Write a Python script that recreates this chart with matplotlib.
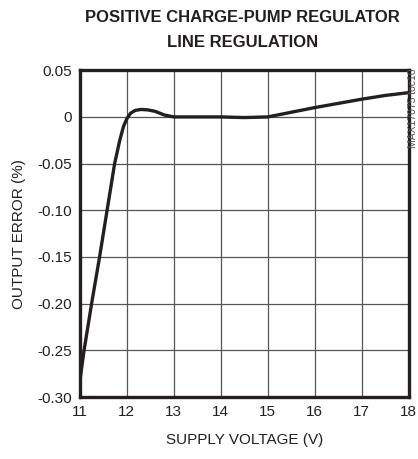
import matplotlib
matplotlib.use('Agg')
import matplotlib.pyplot as plt

plt.rcParams['font.family'] = ['Liberation Sans', 'DejaVu Sans']

# supply voltage (V) vs output error (%)
supply_v = [11.0, 11.09, 11.25, 11.42, 11.58, 11.74, 11.85, 11.93, 12.0, 12.08, 12.18, 12.3,
            12.45, 12.6, 12.8, 13.0, 13.5, 14.0, 14.5, 15.0, 15.5, 16.0, 16.5, 17.0, 17.5, 18.0]
out_err = [-0.283, -0.25, -0.20, -0.15, -0.10, -0.05, -0.025, -0.01, -0.002, 0.004, 0.007, 0.008,
           0.0075, 0.006, 0.002, 0.0, 0.0, 0.0, -0.0007, 0.0, 0.005, 0.010, 0.0145, 0.019, 0.023, 0.026]

x_ticks = [11, 12, 13, 14, 15, 16, 17, 18]
y_ticks = [0.05, 0, -0.05, -0.10, -0.15, -0.20, -0.25, -0.30]
y_tick_labels = ['0.05', '0', '-0.05', '-0.10', '-0.15', '-0.20', '-0.25', '-0.30']

fig = plt.figure(figsize=(4.18, 4.59), dpi=100)
ax = fig.add_axes([0.191, 0.135, 0.787, 0.712])

ax.plot(supply_v, out_err, color='#231f20', lw=2.4, solid_capstyle='butt', zorder=3)

ax.set_xlim(11, 18)
ax.set_ylim(-0.30, 0.05)
ax.set_xticks(x_ticks)
ax.set_yticks(y_ticks)
ax.set_yticklabels(y_tick_labels)
ax.grid(True, color='#555555', lw=0.9)
ax.tick_params(length=0, labelsize=11, pad=6, colors='#231f20')
for s in ax.spines.values():
    s.set_linewidth(2.4)
    s.set_color('#231f20')

ax.set_xlabel('SUPPLY VOLTAGE (V)', fontsize=11, color='#231f20', labelpad=10)
ax.set_ylabel('OUTPUT ERROR (%)', fontsize=11, color='#231f20', labelpad=8)

fig.text(0.581, 0.978, 'POSITIVE CHARGE-PUMP REGULATOR\nLINE REGULATION', ha='center', va='top',
         fontsize=12, fontweight='bold', color='#231f20', linespacing=1.8)
fig.text(0.989, 0.85, 'MAX17075 toc10', rotation=90, ha='center', va='top', fontsize=7.5, color='#555555')

fig.savefig('out.png', dpi=100)
